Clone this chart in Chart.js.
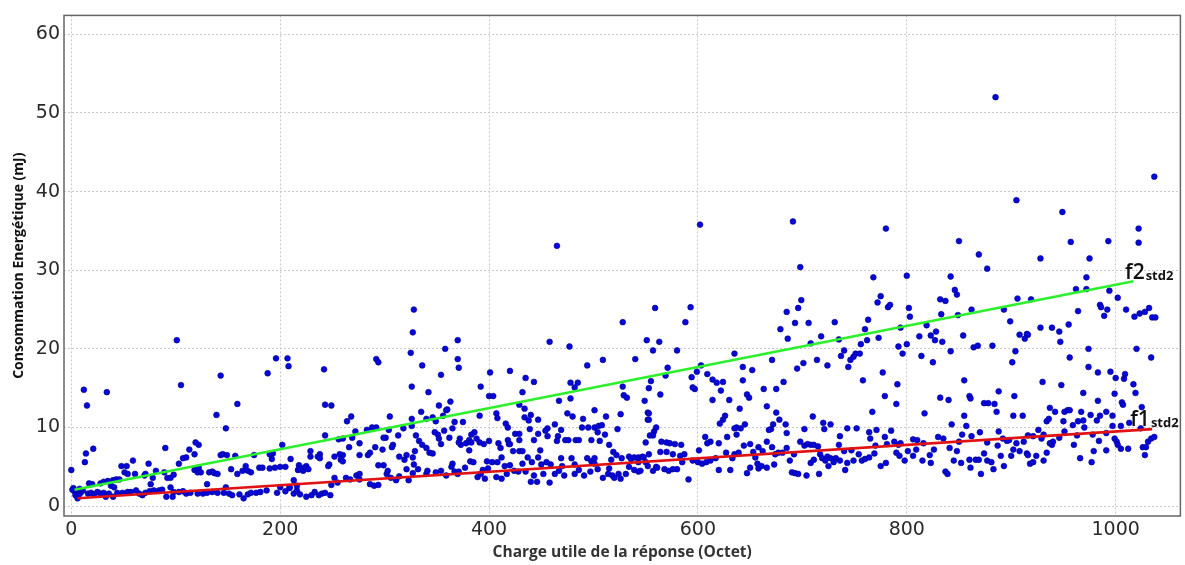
<!DOCTYPE html>
<html>
<head>
<meta charset="utf-8">
<script src="https://cdn.jsdelivr.net/npm/chart.js@4"></script>
<style>
html,body{margin:0;padding:0;background:#fff;}
#wrap{width:1185px;height:565px;position:relative;}
</style>
</head>
<body>
<div id="wrap"><canvas id="c" width="1185" height="565"></canvas></div>
<script>
// ---- data: [payload (octets), energy (mJ)] ----
const pointsA = [
[101,21.1],[105,15.4],[143,16.6],[139,11.6],[159,13.0],[148,9.9],[12,14.8],[15,12.8],[34,14.5],
[0,4.6],[14,6.7],[13,5.6],[21,7.3],[90,7.4],[119,8.1],[122,7.8],[118,6.6],[113,7.2],[107,6.1],[110,6.2],[103,5.4],[74,5.4],[59,5.8],[48,5.1],[53,5.1],[51,4.3],[54,4.1],[61,4.1],[70,3.9],[71,4.1],[76,2.8],[78,3.6],[81,4.5],[89,4.3],[92,3.6],[95,3.6],[98,4.0],[118,4.6],[121,4.3],[124,4.3],[122,4.9],[130,2.8],[132,4.3],[135,4.4],[137,4.2],[140,4.1],[143,6.5],[145,6.6],[149,6.5],[153,4.7],[157,6.4],[159,4.1],[164,4.5],[167,5.1],[169,4.5],[172,4.3],[175,6.5],[180,4.9],[183,4.9],
[17,2.9],[20,2.8],[28,2.9],[31,3.1],[35,3.2],[40,3.3],[43,3.4],[46,3.4],[38,2.6],[41,2.4],
[2,2.3],[5,1.8],[6,1.0],[9,1.7],[11,2.0],[16,1.6],[19,1.7],[22,1.5],[25,1.8],[28,1.6],[31,1.7],[33,1.2],[36,1.6],[40,1.2],[44,1.7],[49,1.7],[54,1.8],[57,1.8],[62,2.0],[65,1.6],[68,1.4],[71,1.7],[75,1.9],[79,2.0],[84,2.0],[87,2.1],[91,1.2],[95,2.4],[97,1.2],[98,1.8],[103,1.8],[107,1.9],[110,1.6],[114,1.7],[121,1.6],[126,1.6],[130,1.7],[135,1.8],[140,1.7],[146,1.7],[148,2.4],[151,1.6],[154,1.4],[161,1.5],[165,1.0],[169,1.5],[172,1.7],[177,1.7],[181,1.8],
[3,1.9],[4,1.4],[8,2.2],[1,2.1],[7,1.4]
];
const pointsB = [
[328,25.0],[327,22.1],[325,19.5],[326,15.2],[196,18.8],[207,18.8],[208,17.8],[188,16.9],[242,17.4],[292,18.7],[294,18.3],[336,17.9],[342,14.5],[354,16.7],[358,20.0],[243,12.9],[249,12.8],
[268,11.4],[264,10.8],[243,9.0],[256,8.5],[260,8.6],[269,8.7],[272,9.5],[276,8.0],[283,9.7],[288,10.0],[292,10.0],[301,8.7],[299,8.7],[305,11.4],[304,9.7],[298,7.2],[308,7.8],[307,7.5],[291,7.5],[286,6.8],[284,6.5],[276,6.5],[266,7.5],[260,6.5],[258,5.9],[260,5.7],[257,6.6],[252,6.3],[247,5.3],[246,5.1],[238,6.6],[236,6.3],[238,6.1],[229,7.0],[229,6.3],[225,5.1],[223,4.9],[227,4.7],[222,4.5],[218,5.2],[217,4.6],[219,4.7],[210,6.0],[202,7.8],[193,6.7],[190,6.6],[192,6.0],[205,5.0],[200,5.0],[195,4.9],[190,4.8],[213,3.3],[209,2.4],
[313,9.0],[318,9.9],[326,11.1],[326,10.2],[330,9.0],[333,8.3],[335,12.0],[336,7.8],[340,11.1],[340,7.4],[343,6.8],[346,11.3],[346,6.7],[348,9.4],[349,10.8],[351,9.1],[352,8.6],[354,7.9],[356,11.5],[352,12.8],[357,9.6],[359,12.2],[360,12.3],[362,8.7],[363,13.3],[365,9.9],[367,10.7],[365,5.4],[364,5.0],[321,6.5],[319,5.9],[327,6.2],[329,7.0],[328,5.3],[321,4.7],[314,6.3],[299,5.2],[294,5.2],
[187,2.0],[197,1.7],[200,2.4],[205,1.9],[209,2.3],[213,1.6],[216,2.0],[219,1.5],[225,1.2],[230,1.4],[233,1.8],[237,1.4],[240,1.6],[243,1.7],[248,1.4],[249,2.7],[252,3.6],[255,3.0],[263,3.6],[267,3.4],[273,3.9],[276,4.1],[276,3.4],[286,2.8],[290,2.6],[294,2.7],[302,4.1],[306,3.6],[311,3.3],[314,3.8],[323,3.3],[327,4.2],[332,4.7],[340,4.1],[341,4.5],[349,4.3],[354,4.5],[359,3.9],[216,2.6],[303,4.5]
];
const pointsC = [
[370,21.1],[370,18.7],[371,17.6],[458,20.9],[477,20.3],[528,23.4],[551,21.1],[540,18.7],[509,18.6],[494,17.9],[401,17.0],[420,17.2],[435,16.3],[443,15.8],[392,15.2],[432,14.5],[400,14.0],[404,14.0],[478,15.7],[482,15.1],[485,15.7],[478,13.7],[467,13.4],[528,15.2],[529,14.1],[532,13.8],[549,13.4],[552,11.9],[552,11.0],[550,8.1],[526,11.7],[465,33.1],
[429,12.9],[434,12.4],[407,11.8],[408,11.2],[416,10.5],[418,10.0],[434,11.3],[438,10.9],[440,11.6],[447,11.0],[463,10.4],[456,9.9],[454,9.6],[439,9.8],[443,8.4],[447,9.2],[456,8.9],[465,8.3],[466,8.9],[469,9.7],[473,8.4],[476,8.4],[475,11.8],[480,11.4],[483,8.4],[486,8.4],[490,11.1],[489,10.0],[495,10.0],[498,8.4],[501,12.2],[501,10.0],[505,10.2],[508,10.3],[504,9.4],[506,8.3],[511,9.1],[512,11.4],[515,7.8],[519,6.9],[522,6.5],[523,9.8],[527,6.1],[534,6.3],[536,6.0],[539,6.2],[543,6.2],[547,6.3],[543,5.6],[548,6.2],[418,8.4],[420,7.9],[425,9.2],[429,9.2],[429,8.4],[429,7.0],[432,7.0],[423,7.0],[412,6.2],[411,7.4],[419,7.9],[409,8.0],[400,8.3],[395,7.9],[391,8.1],[388,8.6],[386,9.4],[383,9.1],[381,8.4],[378,8.0],[372,8.6],[373,7.8],[371,8.1],[381,7.1],[383,8.1],[375,10.7],[391,11.5],[449,7.1],[447,6.2],[455,5.6],[437,6.2],[441,5.6],[403,5.6],[408,5.6],[398,5.7],[382,5.7],[385,5.6],[377,4.9],[479,6.1],[482,5.3],[469,6.1],[498,5.7],[501,6.1],[494,6.1],[517,5.9],[550,5.6],
[367,4.4],[389,3.7],[392,4.1],[396,3.5],[394,4.6],[399,4.8],[407,3.7],[412,3.5],[415,5.1],[417,4.1],[420,5.2],[424,4.5],[428,4.4],[432,5.4],[435,4.4],[440,3.1],[443,3.9],[446,3.1],[450,5.3],[452,4.1],[458,3.0],[459,5.3],[463,4.1],[467,4.5],[470,5.1],[472,3.9],[482,4.1],[486,4.6],[491,3.9],[497,4.4],[501,5.4],[504,4.7],[509,3.6],[514,4.1],[515,4.8],[518,3.9],[520,3.6],[526,3.5],[524,4.1],[531,4.1],[534,5.0],[539,4.6],[543,4.4],[545,4.5],[552,5.1],[371,4.4],[370,4.1]
];
const pointsD = [
[698,30.4],[699,26.2],[696,25.2],[693,23.3],[685,24.7],[679,22.5],[686,21.3],[706,23.3],[708,20.7],[718,21.6],[731,23.4],[735,21.2],[737,19.1],[724,17.9],[714,18.6],[701,18.2],[695,17.5],[671,18.6],[682,15.8],[675,14.9],[663,14.9],[635,19.4],[643,17.7],[652,17.3],[643,16.0],[647,14.2],[649,13.8],[630,13.5],[614,13.5],[609,16.8],[614,16.1],[618,15.7],[624,15.8],[622,14.7],[597,14.9],[595,15.1],[594,16.4],[599,17.1],[603,17.9],[593,25.3],[588,23.4],[559,25.2],[563,20.9],[557,19.8],[580,19.8],[569,16.6],[571,17.6],[555,15.9],[553,15.0],[564,14.2],[553,11.8],[553,11.0],[558,9.5],[554,9.0],[602,35.8],[691,36.2],
[640,12.4],[666,12.7],[675,11.9],[678,11.0],[684,10.4],[685,9.3],[672,10.4],[670,9.8],[668,9.7],[702,9.8],[710,11.4],[720,10.6],[721,9.8],[727,10.4],[736,8.9],[645,10.4],[637,10.0],[635,9.9],[637,9.1],[626,11.5],[624,11.0],[621,10.5],[628,8.8],[641,9.9],[607,8.8],[612,8.2],[609,8.0],[620,8.0],[560,10.0],[557,9.0],[565,8.2],[570,8.1],[573,8.0],[578,7.9],[584,7.8],[601,7.1],[564,6.9],[570,6.9],[576,6.6],[583,6.4],[587,6.6],[635,6.6],[644,7.7],[650,7.9],[653,6.9],[658,7.5],[662,7.0],[666,8.2],[671,7.5],[677,6.8],[685,7.4],[692,6.6],[698,8.2],[702,7.7],[705,7.9],[708,7.8],[711,7.8],[715,7.6],[717,6.6],[719,6.1],[724,6.3],[727,6.1],[732,6.1],[735,7.8],
[553,6.6],[560,5.0],[568,4.7],[572,4.5],[580,4.7],[585,5.6],[591,3.4],[595,5.8],[600,5.6],[604,5.4],[608,5.6],[612,5.8],[617,6.1],[620,4.6],[627,6.8],[631,4.6],[633,6.1],[639,6.8],[647,4.2],[650,4.9],[655,6.2],[657,5.4],[658,4.8],[661,5.1],[666,4.9],[673,5.3],[674,6.6],[681,6.8],[688,5.8],[690,4.3],[693,4.2],[696,4.1],[704,3.9],[708,5.5],[711,5.9],[716,4.1],[722,5.8],[725,5.1],[730,5.6],[736,5.8],[557,4.5],[561,4.9],[576,4.7]
];
const pointsE = [
[869,32.0],[877,30.2],[768,29.1],[800,29.3],[842,29.2],[846,27.5],[848,26.9],[775,26.7],[772,25.9],[782,25.3],[784,25.6],[832,26.3],[837,26.1],[802,25.2],[803,24.1],[833,24.4],[849,24.3],[862,25.0],[893,25.0],[906,26.4],[899,23.5],[908,21.8],[913,21.3],[915,21.9],[763,23.7],[760,22.5],[762,21.1],[756,20.6],[773,21.4],[794,22.7],[792,20.3],[796,19.4],[800,20.6],[812,21.6],[819,23.0],[823,21.7],[828,22.2],[827,21.1],[834,20.9],[842,19.7],[854,21.7],[864,20.2],[868,20.4],[882,20.4],[904,19.7],[901,18.3],[814,19.1],[825,18.3],[751,19.4],[755,19.4],[749,19.0],[746,18.6],[744,17.7],[740,19.8],[885,52.0],[905,38.9],[780,35.3],[850,33.7],
[777,17.0],[758,16.0],[779,14.0],[791,15.5],[790,13.0],[767,12.0],[817,11.8],[832,13.8],[840,13.5],[855,16.0],[860,14.0],[861,13.7],[855,11.5],[843,10.4],[857,10.2],[874,13.1],[878,13.1],[884,13.0],[888,14.6],[886,12.0],[902,11.5],[903,14.0],[911,11.5],[853,9.1],[870,9.4],[888,9.5],[916,9.0],[743,9.9],[752,9.9],[764,9.4],[771,9.7],[765,8.6],[779,8.8],[785,9.6],[781,7.9],[770,7.7],[788,8.2],[792,7.8],[794,8.0],[806,8.5],[810,8.4],[816,8.0],[830,8.8],[835,8.6],[850,8.2],[862,8.9],[877,8.1],[892,8.6],[898,8.4],[905,8.0],[912,8.2],[887,7.7],[896,8.3],
[740,7.0],[747,7.1],[754,6.6],[743,5.5],[741,4.6],[749,5.8],[757,5.8],[760,6.0],[764,6.2],[769,6.7],[775,5.1],[780,5.5],[790,6.8],[793,6.4],[798,5.8],[801,7.0],[806,6.4],[809,7.2],[815,5.8],[822,6.5],[823,5.5],[826,7.2],[837,4.4],[839,4.1],[841,7.4],[845,5.8],[848,7.0],[852,5.5],[860,5.9],[861,4.9],[866,5.9],[869,5.9],[871,4.1],[874,6.7],[877,5.8],[881,5.6],[883,4.7],[890,6.4],[893,5.1],[900,6.4],[902,7.2],[908,7.0],[915,6.7],[918,5.4]
];
const pointsF = [
[1037,41.9],[949,37.4],[957,33.6],[993,33.7],[1022,35.3],[1022,33.5],[928,31.5],[975,31.5],[972,29.1],[962,27.6],[972,27.6],[994,27.4],[1002,26.5],[919,26.3],[964,24.8],[985,25.6],[986,25.3],[992,25.0],[989,24.2],[1010,25.0],[1018,24.1],[1023,24.5],[1028,24.7],[1032,25.2],[1035,24.0],[1038,24.0],[955,23.1],[916,21.8],[928,22.7],[939,22.7],[946,22.2],[947,20.9],[956,18.9],[974,20.0],[1020,20.0],[1034,18.9],[974,17.7],[983,17.0],[995,17.1],[1000,16.3],[1009,16.8],[1008,16.2],[1017,15.5],[1019,14.4],[999,14.3],[1006,13.2],[1007,12.9],[983,13.4],[969,14.4],[948,15.4],[930,15.8],
[937,12.5],[942,12.0],[951,12.0],[954,12.2],[956,12.2],[967,12.0],[969,10.9],[964,10.8],[976,11.6],[982,10.9],[985,11.5],[991,12.0],[997,11.5],[997,10.2],[1005,10.2],[1013,10.6],[1025,12.6],[1024,9.9],[934,10.8],[936,11.1],[926,9.7],[950,10.8],[959,10.3],[970,10.0],[963,9.0],[978,9.1],[991,9.3],[951,9.5],[931,9.1],[929,8.6],[921,8.9],[939,7.8],[937,8.0],[940,8.2],[946,8.7],[960,7.8],[984,8.3],[999,8.6],[1001,8.2],[1002,7.8],[1005,7.3],[1012,7.3],[1026,7.5],[1029,7.5],[1031,8.2],[1034,8.6],[1037,8.8],[1028,6.5],[979,7.0],[991,7.1],[966,6.1],[977,5.6],[934,6.8],[931,5.8],[924,6.4],[921,5.6],[916,6.5]
];
// fitted lines (end points)
const f2Line = [[3,2.1],[1017,28.6]];
const f1Line = [[6,1.0],[1035,9.8]];
// tick labels
const xTicks = [0,200,400,600,800,1000];
const yTicks = [0,10,20,30,40,50,60];
const xTitle = 'Charge utile de la réponse (Octet)';
const yTitle = 'Consommation Energétique (mJ)';

// ---- build chart ----
const toXY = arr => arr.map(p => ({x:p[0], y:p[1]}));
const scatterData = toXY([].concat(pointsA, pointsB, pointsC, pointsD, pointsE, pointsF));

const labelAnchors = [
  {main:'f2', sub:'std2', x:1009, y:28.9},
  {main:'f1', sub:'std2', x:1014, y:10.2}
];

const framePlugin = {
  id:'frame',
  afterDatasetsDraw(chart){
    const {ctx, chartArea:a, scales} = chart;
    ctx.save();
    ctx.strokeStyle = '#666';
    ctx.lineWidth = 1.5;
    ctx.strokeRect(a.left, a.top, a.right - a.left, a.bottom - a.top);
    ctx.fillStyle = '#111';
    ctx.textBaseline = 'alphabetic';
    ctx.textAlign = 'left';
    for (const l of labelAnchors){
      const px = scales.x.getPixelForValue(l.x);
      const py = scales.y.getPixelForValue(l.y);
      ctx.font = '600 21px "Open Sans"';
      ctx.fillText(l.main, px, py);
      const w = ctx.measureText(l.main).width;
      ctx.font = 'bold 13px "Open Sans"';
      ctx.fillText(l.sub, px + w + 1, py + 1);
    }
    ctx.restore();
  }
};

const gridCommon = {
  color:'#c8c8c8',
  lineWidth:1,
  drawTicks:false
};
const tickFont = {family:'"DejaVu Sans"', size:19};

new Chart(document.getElementById('c'), {
  type:'scatter',
  data:{
    datasets:[
      {label:'f2std2', data:toXY(f2Line), showLine:true, borderColor:'#2cf02c', borderWidth:2.6, pointRadius:0, order:0},
      {label:'f1std2', data:toXY(f1Line), showLine:true, borderColor:'#e01212', borderWidth:2.6, pointRadius:0, order:0},
      {label:'mesures', data:scatterData, pointRadius:2.9, pointBackgroundColor:'#0707d8', pointBorderColor:'#000090', pointBorderWidth:0.6, order:1}
    ]
  },
  options:{
    responsive:false,
    animation:false,
    events:[],
    layout:{padding:{top:5, right:3, left:0, bottom:0}},
    plugins:{legend:{display:false}, tooltip:{enabled:false}},
    scales:{
      x:{
        type:'linear', min:-7, max:1062,
        afterBuildTicks(s){ s.ticks = xTicks.map(v=>({value:v})); },
        afterFit(s){ s.height = 49; },
        grid:gridCommon,
        border:{display:false, dash:[2,2]},
        ticks:{padding:3, color:'#2a2a2a', font:tickFont, maxRotation:0, callback:v=>String(v)},
        title:{display:true, text:xTitle, color:'#333', font:{family:'"Open Sans"', size:15.5, weight:'bold'}, padding:{top:0, bottom:3}}
      },
      y:{
        type:'linear', min:-1.25, max:62.4,
        afterBuildTicks(s){ s.ticks = yTicks.map(v=>({value:v})); },
        afterFit(s){ s.width = 64; },
        grid:gridCommon,
        border:{display:false, dash:[2,2]},
        ticks:{padding:4, color:'#2a2a2a', font:tickFont, callback:v=>String(v)},
        title:{display:true, text:yTitle, color:'#111', font:{family:'"Open Sans"', size:14, weight:'bold'}, padding:{top:11, bottom:0}}
      }
    }
  },
  plugins:[framePlugin]
});
</script>
</body>
</html>
